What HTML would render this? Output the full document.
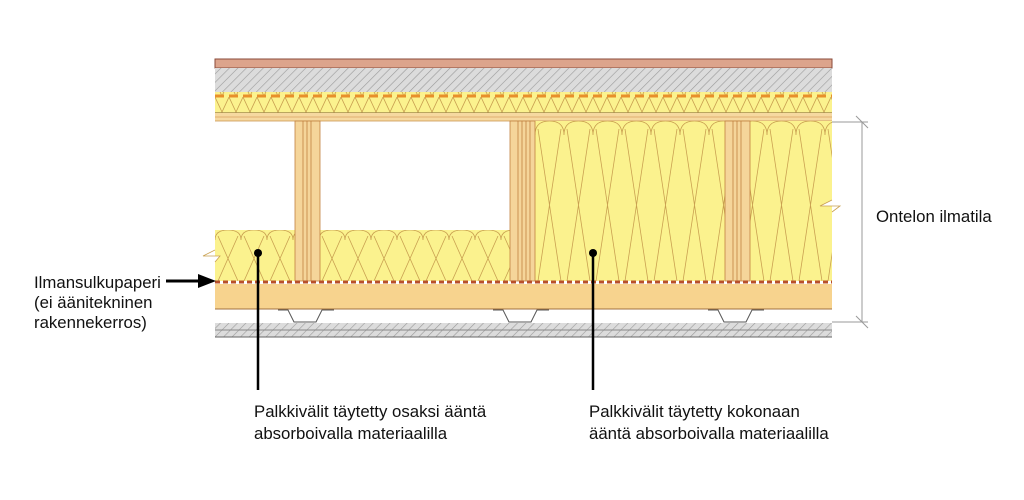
<!DOCTYPE html>
<html><head><meta charset="utf-8"><style>
html,body{margin:0;padding:0;background:#fff;}
svg{display:block}
text{font-family:"Liberation Sans",Arial,sans-serif;font-size:16.8px;fill:#111}
</style></head><body>
<svg width="1024" height="500" viewBox="0 0 1024 500" xmlns="http://www.w3.org/2000/svg">
<defs>
<pattern id="hatch" width="6" height="6" patternUnits="userSpaceOnUse" patternTransform="rotate(45)">
<rect width="6" height="6" fill="#dcdcdc"/><line x1="0" y1="0" x2="0" y2="6" stroke="#9a9a9a" stroke-width="1.2"/>
</pattern>
<pattern id="zig" x="215" y="97" width="14" height="16" patternUnits="userSpaceOnUse">
<rect width="14" height="16" fill="#fbf28e"/><path d="M0 0 L7 15 L14 0" fill="none" stroke="#c9a050" stroke-width="0.8"/>
</pattern>
<pattern id="batt" x="535" y="121" width="29" height="160" patternUnits="userSpaceOnUse">
<rect width="29" height="160" fill="#fbf28e"/>
<path d="M0 14 Q0 0 14.5 0 Q29 0 29 14 M3 8 L26 160 M26 8 L3 160" fill="none" stroke="#c9a050" stroke-width="0.8"/>
</pattern>
<pattern id="batt2" x="215" y="230" width="26" height="51" patternUnits="userSpaceOnUse">
<rect width="26" height="51" fill="#fbf28e"/>
<path d="M0 10 Q0 0 13 0 Q26 0 26 10 M3 6 L23 51 M23 6 L3 51" fill="none" stroke="#c9a050" stroke-width="0.8"/>
</pattern>
</defs>
<rect x="215" y="59" width="617" height="9" fill="#dca48c" stroke="#8a4a3a" stroke-width="1"/>
<rect x="215" y="68" width="617" height="24" fill="url(#hatch)"/>
<rect x="215" y="92" width="617" height="21" fill="url(#zig)"/>
<line x1="215" y1="96" x2="832" y2="96" stroke="#e8902a" stroke-width="3" stroke-dasharray="9 5"/>
<line x1="215" y1="113" x2="832" y2="113" stroke="#7a5a30" stroke-width="1"/>
<rect x="215" y="113" width="617" height="8" fill="#f6d9a0"/>
<line x1="215" y1="117" x2="832" y2="117" stroke="#d8a060" stroke-width="0.8"/>
<line x1="215" y1="121" x2="832" y2="121" stroke="#c9904a" stroke-width="0.8"/>
<rect x="535" y="121" width="297" height="160" fill="url(#batt)"/>
<path d="M832 200 L820 206 L840 206 L832 212" fill="#fff" stroke="#c9a050" stroke-width="0.8"/>
<rect x="215" y="230" width="295" height="51" fill="url(#batt2)"/>
<path d="M215 250 L203 256 L220 256 L215 262" fill="#fff" stroke="#c9a050" stroke-width="0.8"/>
<g stroke="#c08040" stroke-width="0.8">
<rect x="295" y="121" width="25" height="160" fill="#f5d59a"/>
<rect x="510" y="121" width="25" height="160" fill="#f5d59a"/>
<rect x="725" y="121" width="25" height="160" fill="#f5d59a"/>
<line x1="303" y1="121" x2="303" y2="281"/><line x1="307" y1="121" x2="307" y2="281"/><line x1="311" y1="121" x2="311" y2="281"/>
<line x1="518" y1="121" x2="518" y2="281"/><line x1="522" y1="121" x2="522" y2="281"/><line x1="526" y1="121" x2="526" y2="281"/><line x1="530" y1="121" x2="530" y2="281"/>
<line x1="733" y1="121" x2="733" y2="281"/><line x1="737" y1="121" x2="737" y2="281"/><line x1="741" y1="121" x2="741" y2="281"/>
</g>
<line x1="215" y1="282" x2="832" y2="282" stroke="#b8502a" stroke-width="3" stroke-dasharray="5 3"/>
<rect x="215" y="284" width="617" height="25" fill="#f7d38e"/>
<line x1="215" y1="309" x2="832" y2="309" stroke="#a07040" stroke-width="1"/>
<g fill="none" stroke="#555" stroke-width="1">
<path d="M278 310 L288 310 L294 322 L316 322 L322 310 L334 310"/>
<path d="M493 310 L503 310 L509 322 L531 322 L537 310 L549 310"/>
<path d="M708 310 L718 310 L724 322 L746 322 L752 310 L764 310"/>
</g>
<rect x="215" y="323" width="617" height="14" fill="url(#hatch)"/>
<line x1="215" y1="330" x2="832" y2="330" stroke="#888" stroke-width="1"/>
<line x1="215" y1="337" x2="832" y2="337" stroke="#666" stroke-width="1"/>
<g stroke="#999" stroke-width="1">
<line x1="832" y1="122" x2="868" y2="122"/><line x1="832" y1="322" x2="868" y2="322"/>
<line x1="862" y1="122" x2="862" y2="322"/>
<line x1="856" y1="116" x2="868" y2="128"/><line x1="856" y1="316" x2="868" y2="328"/>
</g>
<text x="876" y="222">Ontelon ilmatila</text>
<line x1="166" y1="281" x2="200" y2="281" stroke="#000" stroke-width="3"/>
<path d="M198 274 L216 281 L198 288 Z" fill="#000"/>
<circle cx="258" cy="253" r="4" fill="#000"/>
<line x1="258" y1="253" x2="258" y2="390" stroke="#000" stroke-width="2.5"/>
<circle cx="593" cy="253" r="4" fill="#000"/>
<line x1="593" y1="253" x2="593" y2="390" stroke="#000" stroke-width="2.5"/>
<text x="34" y="288">Ilmansulkupaperi</text>
<text x="34" y="308">(ei äänitekninen</text>
<text x="34" y="328">rakennekerros)</text>
<text x="254" y="417">Palkkivälit täytetty osaksi ääntä</text>
<text x="254" y="439">absorboivalla materiaalilla</text>
<text x="589" y="417">Palkkivälit täytetty kokonaan</text>
<text x="589" y="439">ääntä absorboivalla materiaalilla</text>
</svg>
</body></html>
